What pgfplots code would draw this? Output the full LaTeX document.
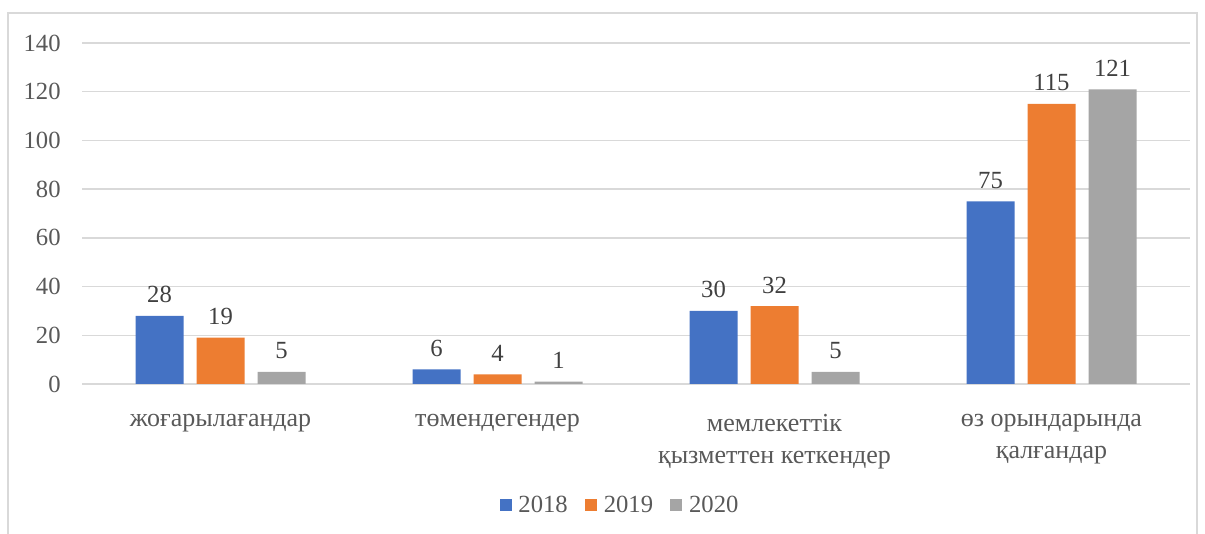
\documentclass[border=0pt]{standalone}
\usepackage{fontspec}
\setmainfont{Liberation Serif}
\usepackage{pgfplots}
\pgfplotsset{compat=1.18}
\definecolor{cA}{HTML}{4472C4}
\definecolor{cB}{HTML}{ED7D31}
\definecolor{cC}{HTML}{A5A5A5}
\definecolor{txt}{HTML}{595959}
\definecolor{lbl}{HTML}{404040}
\definecolor{gridc}{HTML}{D9D9D9}
\begin{document}
\begin{tikzpicture}[x=0.75pt,y=0.75pt]
\useasboundingbox (0,0) rectangle (1205,534);
\draw[gridc, line width=1pt] (8,-10) -- (8,521) -- (1197,521) -- (1197,-10);
\begin{axis}[
  at={(61.5pt,112.5pt)}, anchor=south west,
  scale only axis, width=831pt, height=255.75pt,
  ybar=9.75pt, bar width=36pt,
  xmin=-0.5, xmax=3.5, ymin=0, ymax=140,
  ytick={0,20,...,140},
  xtick={0,1,2,3},
  xticklabels={жоғарылағандар, төмендегендер, {мемлекеттік\\қызметтен кеткендер}, {өз орындарында\\қалғандар}},
  axis line style={draw=none},
  major tick length=0pt,
  ymajorgrids, xmajorgrids=false, grid style={gridc, line width=1pt},
  /pgf/number format/assume math mode=true,
  yticklabel style={font=\fontsize{18.5}{22}\selectfont, text=txt, xshift=-12.5pt},
  xticklabel style={font=\fontsize{19.5}{24}\selectfont, text=txt, align=center, yshift=-19pt},
  nodes near coords,
  every node near coord/.append style={font=\fontsize{18.5}{22}\selectfont, text=lbl, yshift=6pt},
  legend style={at={(0.486,-0.355)}, anchor=center, draw=none, fill=none,
    legend columns=-1, font=\fontsize{18.5}{22}\selectfont, text=txt,
    /tikz/every odd column/.append style={column sep=0pt},
    /tikz/every even column/.append style={column sep=11pt}},
]
\addplot[fill=cA, draw=none, legend image code/.code={\fill[cA] (0pt,-4.5pt) rectangle (9pt,4.5pt); \path (12pt,0);}] coordinates {(0,28) (1,6) (2,30) (3,75)};
\addplot[fill=cB, draw=none, legend image code/.code={\fill[cB] (0pt,-4.5pt) rectangle (9pt,4.5pt); \path (12pt,0);}] coordinates {(0,19) (1,4) (2,32) (3,115)};
\addplot[fill=cC, draw=none, legend image code/.code={\fill[cC] (0pt,-4.5pt) rectangle (9pt,4.5pt); \path (12pt,0);}] coordinates {(0,5) (1,1) (2,5) (3,121)};
\legend{2018,2019,2020}
\end{axis}
\end{tikzpicture}
\end{document}
